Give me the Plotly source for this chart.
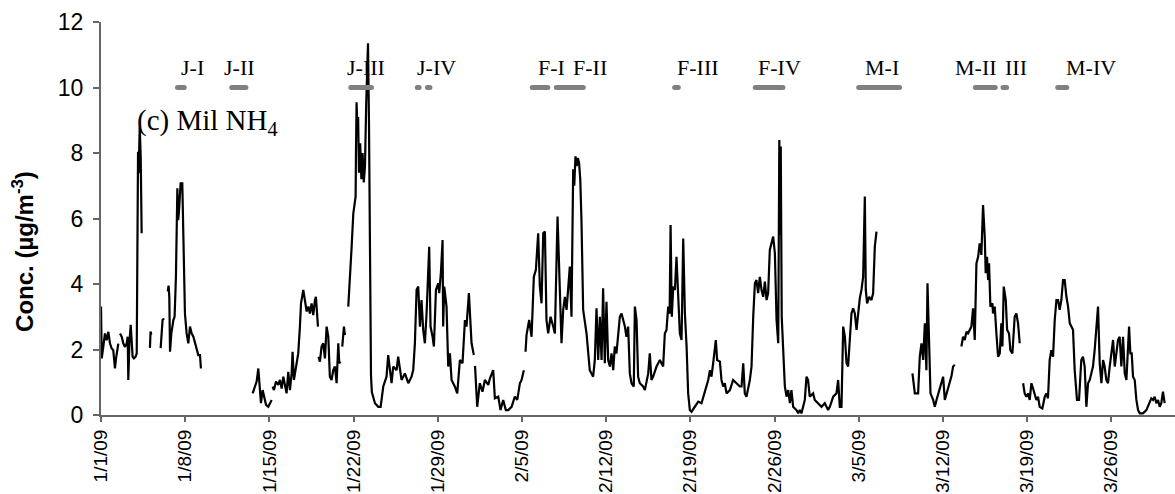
import pandas as pd
import plotly.graph_objects as go

# Hourly ammonium concentration, Milwaukee, Jan-Mar 2009.
# day_offset = days since 2009-01-01 00:00; None in conc marks a data gap.
day_offset = [
    0.00, 0.06, 0.19, 0.33, 0.47, 0.61, 0.75, 0.89, 1.02, 1.16, 1.25, 1.36, 1.44, 1.51,
    1.58, 1.72, 1.86, 2.00, 2.13, 2.22, 2.27, 2.36, 2.47, 2.55, 2.63, 2.74, 2.88, 2.97,
    3.02, 3.08, 3.13, 3.22, 3.30, 3.38, 3.70,
    4.07, 4.12, 4.18, 4.55,
    4.96, 5.04, 5.12, 5.24, 5.40,
    5.55, 5.62, 5.68, 5.74, 5.85, 5.93, 6.02, 6.12, 6.23, 6.35, 6.42, 6.48, 6.56, 6.62,
    6.76, 6.84, 6.98, 7.12, 7.26, 7.40, 7.54, 7.68, 7.80, 7.95, 8.09, 8.23, 8.31, 10.0,
    12.61, 12.80, 12.94, 13.08, 13.22, 13.30, 13.44, 13.55, 13.72, 13.91, 14.05, 14.19, 14.23,
    14.27, 14.38, 14.55, 14.74, 14.88, 15.02, 15.16, 15.30, 15.43, 15.57, 15.71, 15.85,
    15.93, 16.04, 16.21, 16.40, 16.54, 16.63, 16.82, 16.96, 17.10, 17.24, 17.37, 17.51,
    17.65, 17.79, 17.87, 18.04, 18.06,
    18.09, 18.20, 18.34, 18.48, 18.62, 18.76, 18.90, 19.03, 19.17, 19.31, 19.45, 19.59,
    19.73, 19.81, 19.92, 19.99,
    20.06, 20.20, 20.28, 20.42,
    20.56, 20.70, 20.84, 20.98, 21.17, 21.20, 21.25, 21.32, 21.38, 21.45, 21.55, 21.65,
    21.75, 21.85, 21.95, 22.05, 22.20, 22.28, 22.35, 22.45, 22.52, 22.78, 23.05, 23.25,
    23.47, 23.74, 23.88, 24.16, 24.30, 24.58, 24.71, 24.99, 25.27, 25.55, 25.82, 25.96,
    26.10, 26.24, 26.38, 26.52, 26.65, 26.79, 26.93, 27.07, 27.29, 27.40, 27.57, 27.68,
    27.85, 28.04, 28.12, 28.26, 28.40, 28.45, 28.54, 28.73, 28.87, 29.01, 29.15, 29.42,
    29.62, 29.84, 30.06, 30.26, 30.39, 30.59, 30.81, 31.00, 31.05,
    31.10, 31.28, 31.50, 31.72, 31.92, 32.20, 32.34, 32.61, 32.75, 33.03, 33.22, 33.44,
    33.66, 33.86, 34.14, 34.41, 34.61, 34.83, 34.97, 35.16, 35.23,
    35.30, 35.38, 35.60, 35.80, 35.99, 36.16, 36.35, 36.49, 36.63, 36.77, 36.91, 37.04,
    37.18, 37.38, 37.60, 37.74, 37.96, 38.15, 38.29, 38.43, 38.57, 38.71, 38.98, 39.12,
    39.26, 39.35, 39.45, 39.55, 39.65, 39.75, 39.85, 39.95, 40.09, 40.37, 40.64, 40.92,
    41.06, 41.20, 41.34, 41.48, 41.62, 41.75, 41.89, 42.03, 42.17, 42.31, 42.45, 42.59,
    42.72, 42.86, 43.00, 43.14, 43.28, 43.56, 43.69, 43.83, 43.97, 44.11, 44.30, 44.39,
    44.53, 44.66, 44.80, 45.08, 45.22, 45.50, 45.63, 45.77, 45.91, 46.19, 46.47, 46.74,
    46.88, 47.02, 47.16, 47.28, 47.36, 47.46, 47.58, 47.72, 47.85, 47.99, 48.13, 48.27,
    48.41, 48.55, 48.69, 48.82, 48.96, 49.10, 49.38, 49.66, 49.93, 50.21, 50.49, 50.63,
    50.76, 50.90, 51.12, 51.23, 51.46, 51.59, 51.73, 51.87, 52.01, 52.29, 52.56, 52.84,
    53.12, 53.26, 53.40, 53.53, 53.67, 53.95, 54.09, 54.23, 54.37, 54.50, 54.64, 54.78,
    54.92, 55.06, 55.20, 55.34, 55.47, 55.61, 55.75, 55.89, 56.03, 56.17, 56.31, 56.40,
    56.47, 56.52, 56.60, 56.72, 56.86, 57.00, 57.14, 57.28, 57.41, 57.55, 57.83, 57.97,
    58.10, 58.24, 58.38, 58.52, 58.66, 58.79, 58.93, 59.21, 59.35, 59.63, 59.91, 60.18,
    60.46, 60.60, 60.88, 61.15, 61.29, 61.43, 61.57, 61.71, 61.85, 61.99, 62.12, 62.26,
    62.40, 62.54, 62.68, 62.82, 62.96, 63.09, 63.23, 63.37, 63.51, 63.59, 63.70, 63.87,
    64.06, 64.20, 64.34, 64.48, 66.0,
    67.47, 67.67, 67.94, 68.08, 68.22, 68.36, 68.50, 68.63, 68.72, 68.86, 68.97, 69.19,
    69.33, 69.47, 69.69, 69.88, 70.02, 70.16, 70.30, 70.57, 70.72, 70.85, 70.99, 71.30,
    71.54, 71.68, 71.82, 71.96, 72.09, 72.23, 72.37, 72.51, 72.65, 72.79, 72.93, 73.06,
    73.20, 73.34, 73.48, 73.56, 73.67, 73.76, 73.84, 73.95, 74.12, 74.17, 74.31, 74.45,
    74.59, 74.73, 74.86, 74.95, 75.06, 75.23, 75.34, 75.50, 75.61, 75.78, 75.97, 76.11,
    76.25, 76.39, 76.53,
    76.67, 76.80, 76.94, 77.08, 77.22, 77.36, 77.50, 77.64, 77.77, 77.91, 78.05, 78.27,
    78.47, 78.61, 78.74, 78.88, 79.02, 79.16, 79.30, 79.44, 79.58, 79.71, 79.85, 79.99,
    80.13, 80.27, 80.41, 80.55, 80.68, 80.82, 80.96, 81.04, 81.15, 81.32, 81.51, 81.65,
    81.79, 81.93, 82.07, 82.21, 82.35, 82.48, 82.62, 82.76, 82.90, 83.04, 83.18, 83.32,
    83.45, 83.59, 83.73, 83.87, 84.01, 84.15, 84.29, 84.43, 84.56, 84.70, 84.84, 84.98,
    85.12, 85.26, 85.48, 85.59, 85.70, 85.81, 85.95, 86.09, 86.23, 86.37, 86.64, 86.92,
    87.20, 87.33, 87.47, 87.61, 87.75, 87.89, 88.03, 88.16, 88.30, 88.44,
]

conc = [
    3.31, 1.73, 2.08, 2.49, 2.28, 2.54, 2.18, 2.03, 1.98, 1.42, 1.73, 2.08, 2.18, None,
    2.49, 2.39, 2.18, 2.08, 2.18, 2.39, 1.07, 2.18, 2.75, 2.28, 1.78, 1.73, 1.78, 1.88,
    7.20, 8.04, 7.38, 8.80, 7.90, 5.55, None,
    2.05, 2.55, 2.45, None,
    2.04, 2.64, 2.90, 2.95, None,
    3.77, 3.95, 3.60, 1.93, 2.50, 2.70, 2.90, 3.00, 4.22, 6.92, 5.95, 6.20, 6.95, 7.07,
    7.07, 5.65, 3.10, 2.49, 2.19, 2.70, 2.49, 2.39, 2.20, 1.98, 1.83, 1.83, 1.42, None,
    0.66, 0.87, 1.02, 1.42, 0.66, 0.36, 0.76, 0.56, 0.31, 0.25, 0.36, 0.46, None,
    0.87, 0.76, 1.02, 0.92, 1.07, 0.81, 1.17, 0.92, 0.66, 1.32, 0.76, 1.27,
    1.93, 1.07, 1.48, 1.88, 2.70, 3.41, 3.82, 3.51, 3.16, 3.31, 3.10, 3.41,
    3.05, 3.51, 3.61, 2.70, None,
    1.78, 1.63, 2.09, 2.19, 1.73, 2.70, 2.39, 1.17, 1.07, 1.37, 1.48, 0.97,
    2.19, 1.58, 1.63, None,
    2.09, 2.70, 2.44, None,
    3.31, 4.12, 5.14, 6.16, 6.67, 8.00, 9.55, 8.70, 9.10, 7.40, 8.30, 7.20,
    8.00, 7.10, 7.60, 9.50, 11.35, 9.00, 4.00, 1.20, 0.70, 0.36, 0.25, 0.25,
    0.87, 1.17, 1.83, 0.97, 1.48, 1.37, 1.78, 1.07, 1.27, 0.97, 1.17, 1.37,
    2.19, 3.82, 3.92, 2.70, 3.51, 2.60, 2.19, 3.10, 5.14, 2.70, 2.39, 2.09,
    3.82, 4.02, 3.72, 4.33, 5.34, 2.70, 3.92, 3.31, 1.48, 1.88, 1.07, 0.87,
    0.66, 1.68, 1.58, 2.90, 2.70, 3.72, 2.19, 1.83, None,
    1.50, 0.25, 0.97, 0.71, 1.07, 0.92, 1.12, 1.37, 0.51, 0.56, 0.15, 0.46,
    0.15, 0.15, 0.25, 0.56, 0.46, 0.97, 1.07, 1.37, None,
    1.93, 2.44, 2.90, 2.39, 4.22, 4.43, 5.55, 3.92, 3.41, 5.55, 5.60, 2.90,
    2.49, 3.00, 2.70, 2.49, 6.06, 3.61, 2.19, 3.21, 3.61, 3.21, 4.53, 3.00,
    7.50, 7.00, 7.90, 7.60, 7.85, 7.70, 7.20, 5.95, 3.21, 2.49, 1.37, 1.17,
    1.68, 3.26, 1.68, 3.00, 1.68, 3.87, 1.58, 3.46, 1.68, 1.48, 1.88, 1.37,
    2.09, 1.88, 2.39, 3.00, 3.10, 2.70, 2.39, 2.70, 1.27, 0.97, 0.87, 3.31,
    2.90, 1.17, 0.97, 0.87, 0.76, 1.27, 1.88, 1.07, 1.17, 1.48, 1.68, 1.48,
    2.49, 2.60, 3.31, 3.10, 5.80, 3.00, 3.92, 3.82, 4.83, 3.61, 2.49, 2.29,
    5.39, 3.10, 2.09, 0.66, 0.15, 0.10, 0.25, 0.41, 0.36, 0.76, 1.07, 1.37,
    1.17, 1.58, 2.29, 1.68, 1.63, 1.07, 0.87, 0.97, 0.66, 0.76, 1.07, 0.97,
    0.87, 0.87, 1.58, 0.66, 0.56, 1.07, 1.48, 3.00, 4.02, 4.12, 3.72, 4.22,
    3.82, 3.61, 4.07, 3.51, 3.72, 5.04, 5.24, 5.45, 4.94, 2.90, 2.19, 8.40,
    5.50, 8.20, 3.00, 1.98, 0.87, 0.56, 0.76, 0.36, 0.76, 0.25, 0.15, 0.05,
    0.15, 0.05, 0.25, 0.46, 1.17, 1.07, 0.56, 0.66, 0.46, 0.36, 0.25, 0.36,
    0.15, 0.25, 0.56, 0.66, 1.07, 0.25, 0.25, 2.70, 2.39, 1.58, 1.48, 2.29,
    3.10, 3.26, 3.10, 2.60, 3.10, 3.56, 3.82, 4.22, 6.67, 3.82, 3.41, 3.61,
    3.51, 3.72, 5.14, 5.60, None,
    1.27, 0.66, 0.66, 1.78, 2.19, 1.68, 2.80, 1.37, 4.02, 2.09, 0.66, 0.46,
    0.25, 0.46, 0.76, 0.97, 1.17, 0.46, 0.66, 0.97, 1.20, 1.48, 1.53, None,
    2.09, 2.39, 2.29, 2.54, 2.49, 2.60, 2.70, 3.26, 2.29, 4.63, 4.83, 5.24,
    4.89, 6.41, 5.45, 4.33, 4.83, 4.12, 4.63, 3.31, 3.41, 3.10, 3.31, 2.49,
    1.78, 1.88, 2.80, 2.09, 3.92, 3.51, 2.60, 2.49, 1.98, 1.88, 3.00, 3.10,
    2.80, 2.19, None,
    0.97, 0.66, 0.56, 0.66, 0.46, 0.97, 0.81, 0.66, 0.46, 0.56, 0.25, 0.20,
    0.56, 0.66, 0.51, 1.68, 1.98, 1.78, 2.90, 3.51, 3.51, 3.21, 3.51, 4.12,
    4.12, 3.61, 3.31, 2.80, 2.70, 2.60, 1.37, 0.97, 0.46, 0.46, 1.68, 1.78,
    1.48, 0.25, 0.97, 1.07, 1.27, 1.48, 1.98, 2.60, 3.31, 1.58, 0.97, 1.68,
    1.48, 1.07, 0.97, 1.48, 1.88, 2.29, 1.48, 1.88, 2.29, 2.39, 1.48, 2.39,
    1.27, 1.07, 2.70, 1.88, 1.88, 1.17, 1.07, 0.46, 0.15, 0.05, 0.05, 0.15,
    0.41, 0.51, 0.46, 0.56, 0.36, 0.46, 0.25, 0.36, 0.71, 0.36,
]

# Pollution episodes (start/end in days since 2009-01-01)
episode_start = [6.36, 10.87, 20.77, 26.30, 27.14, 35.86, 37.86, 47.70, 54.40, 63.00, 72.70, 75.00, 79.55]
episode_end = [6.92, 12.05, 22.49, 26.45, 27.35, 37.15, 40.10, 48.00, 56.70, 66.40, 74.35, 75.30, 80.30]

episode_label = ["J-I", "J-II", "J-III", "J-IV", "F-I", "F-II", "F-III", "F-IV", "M-I", "M-II", "III", "M-IV"]
episode_label_day = [7.63, 11.54, 22.05, 27.90, 37.46, 40.69, 49.60, 56.40, 64.90, 72.73, 76.12, 82.30]
episode_level = 10

start_date = pd.Timestamp("2009-01-01")


def to_time(days):
    return [start_date + pd.Timedelta(days=float(d)) for d in days]


SANS = "Arial, Liberation Sans, sans-serif"
SERIF = "Times New Roman, Liberation Serif, serif"

fig = go.Figure()

fig.add_trace(go.Scatter(
    x=to_time(day_offset), y=conc, mode="lines",
    line=dict(color="black", width=2.2), connectgaps=False,
    hoverinfo="skip", showlegend=False,
))

# Episode markers: thick grey bars with rounded ends
for s, e in zip(episode_start, episode_end):
    fig.add_trace(go.Scatter(
        x=to_time([s, e]), y=[episode_level, episode_level],
        mode="lines+markers",
        line=dict(color="#808080", width=5),
        marker=dict(color="#808080", size=5, line=dict(width=0)),
        hoverinfo="skip", showlegend=False,
    ))

for lab, d in zip(episode_label, episode_label_day):
    fig.add_annotation(
        x=start_date + pd.Timedelta(days=d), y=10.62, text=lab, showarrow=False,
        xanchor="center", yanchor="middle",
        font=dict(family=SERIF, size=22, color="black"),
    )

fig.add_annotation(
    x=start_date + pd.Timedelta(days=2.85), y=8.95, text="(c) Mil NH<sub>4</sub>",
    showarrow=False, xanchor="left", yanchor="middle",
    font=dict(family=SERIF, size=29, color="black"),
)

fig.add_annotation(
    xref="paper", yref="paper", x=-0.0726, y=0.415,
    text="<b>Conc. (µg/m<sup>-3</sup>)</b>", textangle=-90, showarrow=False,
    xanchor="center", yanchor="middle",
    font=dict(family=SANS, size=24, color="black"),
)

fig.update_layout(
    width=1175, height=494,
    margin=dict(l=101, r=0, t=22, b=79, pad=0),
    paper_bgcolor="white", plot_bgcolor="white",
    showlegend=False,
)

fig.update_xaxes(
    type="date", automargin=False,
    range=[start_date, start_date + pd.Timedelta(days=89.3)],
    tick0=start_date, dtick=7 * 86400000, tickformat="%-m/%-d/%y",
    tickangle=-90, ticks="outside", ticklen=5, tickwidth=1.5, tickcolor="#666666",
    showline=True, linecolor="#666666", linewidth=2, showgrid=False, zeroline=False,
    tickfont=dict(family=SANS, size=19, color="black"),
)

fig.update_yaxes(
    automargin=False,
    range=[0, 12], dtick=2, ticks="outside", ticklen=6, tickwidth=1.5, tickcolor="#666666",
    ticklabelstandoff=5,
    showline=True, linecolor="#666666", linewidth=2, showgrid=False, zeroline=False,
    tickfont=dict(family=SANS, size=23, color="black"),
)

fig.write_html("out.html")
